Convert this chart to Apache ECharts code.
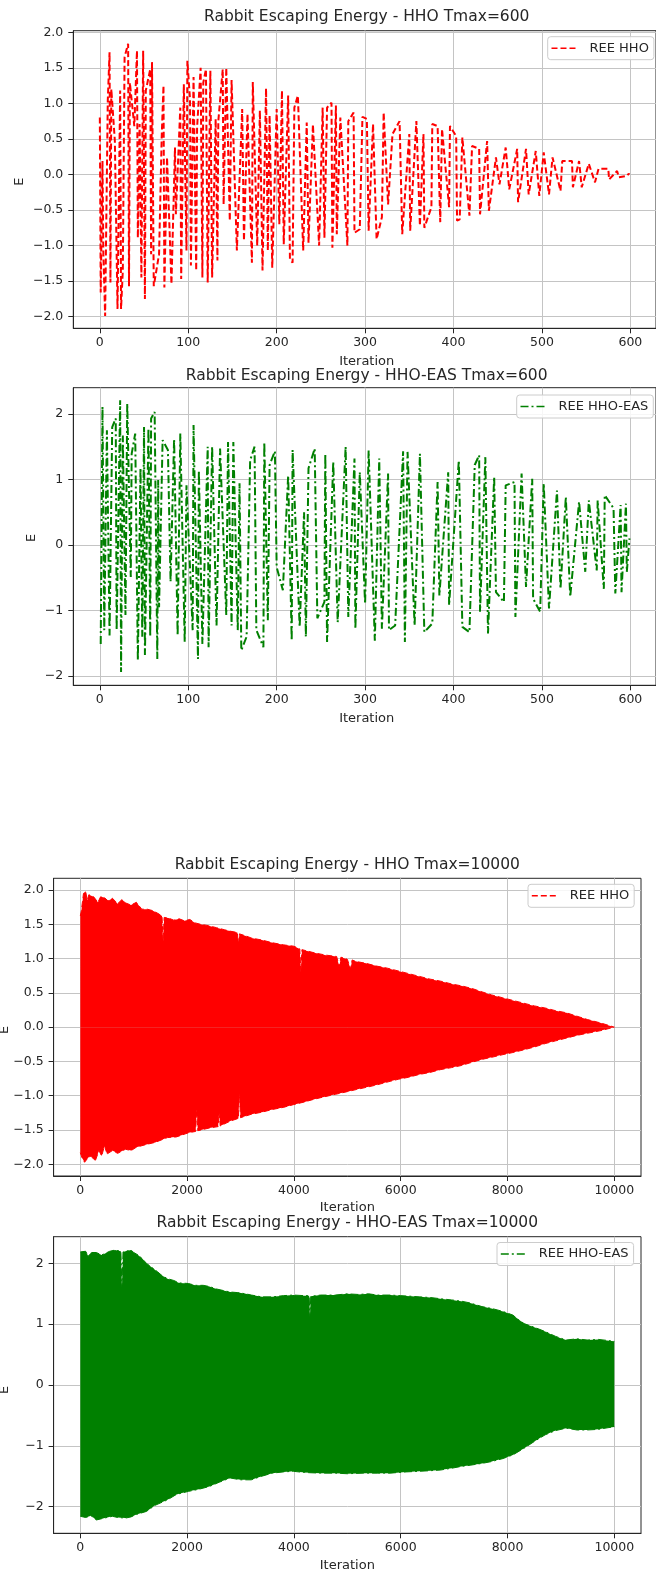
<!DOCTYPE html>
<html>
<head>
<meta charset="utf-8">
<script src="https://cdn.jsdelivr.net/npm/echarts@6/dist/echarts.min.js"></script>
<style>
html,body{margin:0;padding:0;background:#fff}
#c{width:656px;height:1576px}
</style>
</head>
<body>
<div id="c"></div>
<script>
// Rabbit escaping energy, HHO, Tmax = 600: successive swings of E over the iterations
const hhoShort = [
  [0,0.80],[1,-1.66],[3,0.19],[4,-1.12],[6,-1.99],[9,1.04],[11,1.72],[12,-1.52],[13,1.20],[17,0.47],
  [20,-1.89],[23,1.18],[24,-1.89],[26,-1.35],[28,1.65],[32,1.84],[33,-1.57],[34,1.29],[39,0.68],[42,1.74],
  [43,-0.89],[45,0.71],[47,-1.45],[49,1.74],[51,-1.75],[52,1.18],[57,1.48],[58,-1.12],[59,1.58],[61,-1.57],
  [67,-1.12],[70,0.54],[72,1.25],[73,-1.59],[76,0.24],[81,-1.54],[85,0.38],[86,-0.56],[91,0.94],[92,-1.47],
  [95,1.27],[98,-1.07],[99,1.60],[102,1.06],[103,-1.28],[106,1.37],[109,-1.35],[110,0.66],[114,1.50],[116,-1.45],
  [117,1.29],[120,1.48],[122,-1.52],[125,1.46],[127,-1.45],[131,0.78],[133,-1.21],[134,0.75],[139,1.48],[140,-0.42],
  [143,1.50],[147,-0.65],[149,1.33],[155,-1.07],[161,0.92],[163,-0.93],[167,0.85],[172,-1.24],[173,1.30],[178,-1.00],
  [181,0.90],[184,-1.35],[188,1.21],[190,-1.07],[192,0.83],[195,-1.31],[200,0.92],[203,-0.70],[206,1.18],[208,-0.98],
  [213,1.11],[215,-1.19],[218,-1.24],[220,0.94],[224,1.11],[230,-1.07],[234,0.73],[236,-0.96],[241,0.70],[248,-1.00],
  [252,0.94],[254,-0.89],[257,0.94],[262,1.01],[263,-1.03],[267,0.97],[268,-0.84],[272,0.80],[280,-1.00],[281,0.75],
  [287,0.87],[288,-0.82],[294,-0.77],[297,0.81],[302,0.78],[304,-0.79],[309,0.71],[313,-0.91],[319,-0.60],[321,0.87],
  [326,-0.42],[331,0.57],[339,0.75],[342,-0.84],[350,0.57],[351,-0.79],[358,0.75],[362,-0.72],[366,0.57],[367,-0.75],
  [375,-0.46],[376,0.71],[382,0.68],[385,-0.67],[387,0.64],[395,-0.46],[396,0.68],[403,0.54],[404,-0.65],[407,-0.63],
  [410,0.52],[418,-0.58],[421,0.40],[429,0.36],[430,-0.56],[438,0.47],[440,-0.51],[448,0.24],[452,-0.14],[459,0.38],
  [463,-0.21],[472,0.36],[473,-0.39],[482,0.36],[485,-0.28],[493,0.33],[497,-0.30],[502,0.31],[508,-0.28],[512,0.24],
  [521,-0.23],[523,0.19],[534,0.19],[535,-0.18],[542,0.19],[545,-0.18],[553,0.15],[560,-0.11],[564,0.08],[575,0.08],
  [576,-0.07],[585,0.05],[587,-0.04],[596,-0.02],[598,0.01],[599,0.00]
];

// Rabbit escaping energy, HHO-EAS, Tmax = 600
const easShort = [
  [1,-1.51],[3,2.11],[5,-1.30],[8,1.75],[11,-1.38],[14,1.80],[18,1.93],[19,-1.30],[23,2.21],[24,-1.94],
  [26,1.67],[29,-1.07],[31,2.16],[35,-0.49],[36,1.39],[40,1.70],[43,-1.76],[46,1.17],[48,-1.40],[50,1.80],
  [51,-1.68],[55,1.78],[57,-1.40],[58,1.93],[62,2.03],[65,-1.74],[66,0.99],[67,-0.95],[71,1.60],[77,1.45],
  [80,-0.56],[84,1.62],[88,-1.38],[91,1.70],[96,-1.48],[98,0.91],[105,-1.30],[106,1.83],[111,-1.74],[112,1.14],
  [116,-1.51],[122,1.50],[123,-1.56],[127,1.50],[132,-1.23],[136,1.47],[143,-1.07],[145,1.57],[149,-1.23],[151,1.57],
  [156,-1.30],[158,0.94],[160,-1.61],[166,-1.40],[170,1.29],[175,1.50],[177,-1.30],[185,-1.56],[186,1.57],[190,-1.15],
  [192,1.22],[198,1.43],[200,-0.34],[207,-0.69],[213,1.06],[217,-1.46],[218,1.45],[226,-1.25],[231,0.50],[233,-1.40],
  [236,1.17],[243,1.47],[246,-1.12],[254,-0.87],[255,1.39],[257,-1.48],[264,1.27],[269,-1.18],[278,1.50],[281,-1.10],
  [288,1.32],[289,-1.28],[294,1.11],[300,-0.90],[304,1.44],[311,-1.46],[316,1.32],[319,-1.28],[326,1.09],[327,-1.30],
  [334,-1.23],[343,1.43],[345,-1.48],[348,1.42],[356,-1.23],[362,1.39],[367,-1.33],[376,-1.20],[382,0.96],[384,-0.77],
  [394,1.11],[395,-0.92],[406,1.29],[410,-1.25],[418,-1.33],[424,1.22],[429,1.37],[430,-1.02],[436,1.34],[439,-1.35],
  [446,1.04],[448,-0.72],[457,-0.87],[459,0.91],[469,0.96],[470,-1.10],[477,1.09],[482,-0.64],[489,1.01],[490,-0.82],
  [498,-1.02],[502,0.94],[508,-0.97],[517,0.83],[521,-0.67],[527,0.73],[532,-0.79],[542,0.66],[549,-0.41],[553,0.68],
  [562,-0.39],[563,0.68],[570,-0.67],[571,0.76],[581,0.56],[583,-0.74],[589,0.61],[590,-0.72],[595,0.63],[596,-0.41],
  [599,0.10]
];

// Tmax = 10000: the swings are too dense to separate, so each run is kept as its
// upper and lower reach along the iterations (narrow notches included)
const hhoUpper = [
  [0,1.62],[20,1.70],[60,1.95],[100,1.98],[130,1.85],[160,1.93],[250,1.90],[330,1.82],[380,1.90],[450,1.89],
  [520,1.84],[600,1.88],[700,1.80],[780,1.86],[850,1.81],[950,1.78],[1050,1.82],[1150,1.72],[1250,1.72],[1350,1.70],
  [1450,1.66],[1530,1.62],[1550,1.25],[1570,1.60],[1650,1.59],[1750,1.56],[1850,1.58],[1950,1.55],[2050,1.57],[2150,1.52],
  [2250,1.50],[2400,1.48],[2550,1.45],[2700,1.42],[2800,1.40],[2940,1.38],[2960,1.22],[2980,1.36],[3100,1.33],[3200,1.30],
  [3400,1.27],[3600,1.23],[3800,1.20],[4000,1.18],[4110,1.14],[4130,0.80],[4150,1.13],[4250,1.11],[4400,1.08],[4600,1.05],
  [4800,1.03],[4850,0.88],[4880,1.02],[5000,0.99],[5060,0.85],[5090,0.98],[5150,0.96],[5350,0.93],[5550,0.89],[5750,0.86],
  [5950,0.82],[6150,0.78],[6350,0.74],[6550,0.70],[6750,0.67],[6950,0.63],[7150,0.60],[7350,0.56],[7500,0.52],[7700,0.47],
  [7900,0.43],[8100,0.39],[8300,0.35],[8500,0.31],[8700,0.28],[8900,0.24],[9100,0.21],[9300,0.16],[9500,0.11],[9750,0.06],
  [9999,0.00]
];
const hhoLower = [
  [0,-1.83],[30,-1.90],[80,-1.97],[150,-1.90],[200,-1.88],[280,-1.95],[350,-1.80],[400,-1.88],[453,-1.73],[500,-1.85],
  [600,-1.80],[700,-1.84],[845,-1.78],[950,-1.80],[1050,-1.75],[1238,-1.71],[1400,-1.68],[1632,-1.61],[1800,-1.60],[2025,-1.54],
  [2160,-1.52],[2180,-1.20],[2200,-1.51],[2417,-1.47],[2580,-1.45],[2600,-1.25],[2620,-1.44],[2808,-1.37],[2960,-1.33],[2980,-0.96],
  [3000,-1.32],[3202,-1.27],[3400,-1.24],[3596,-1.20],[3800,-1.17],[3989,-1.13],[4200,-1.09],[4381,-1.05],[4600,-1.01],[4774,-0.98],
  [5000,-0.94],[5167,-0.91],[5400,-0.87],[5561,-0.84],[5800,-0.79],[5953,-0.76],[6150,-0.73],[6346,-0.69],[6550,-0.66],[6738,-0.62],
  [6950,-0.59],[7132,-0.56],[7300,-0.52],[7521,-0.47],[7700,-0.44],[7916,-0.40],[8100,-0.37],[8310,-0.33],[8500,-0.29],[8704,-0.24],
  [8900,-0.20],[9098,-0.16],[9300,-0.12],[9489,-0.09],[9750,-0.05],[9999,0.00]
];
const easUpper = [
  [0,2.19],[100,2.20],[150,2.12],[200,2.18],[300,2.18],[400,2.14],[453,2.16],[550,2.20],[650,2.22],[760,2.20],
  [780,1.60],[800,2.19],[845,2.20],[950,2.22],[1000,2.18],[1080,2.14],[1160,2.08],[1240,2.00],[1350,1.93],[1450,1.86],
  [1530,1.80],[1632,1.75],[1750,1.72],[1850,1.68],[2025,1.67],[2150,1.64],[2300,1.64],[2417,1.62],[2550,1.58],[2700,1.55],
  [2808,1.53],[2950,1.52],[3100,1.50],[3202,1.48],[3400,1.45],[3596,1.45],[3800,1.47],[3989,1.48],[4200,1.47],[4285,1.47],
  [4300,1.12],[4315,1.46],[4500,1.48],[4774,1.48],[5000,1.50],[5200,1.49],[5400,1.50],[5561,1.48],[5800,1.48],[6000,1.47],
  [6200,1.46],[6346,1.45],[6550,1.44],[6738,1.42],[6950,1.40],[7132,1.38],[7300,1.35],[7521,1.29],[7700,1.26],[7916,1.21],
  [8100,1.15],[8200,1.08],[8310,1.01],[8500,0.95],[8704,0.88],[8900,0.80],[9098,0.74],[9300,0.76],[9489,0.74],[9700,0.75],
  [9900,0.73],[9999,0.72]
];
const easLower = [
  [0,-2.16],[100,-2.18],[200,-2.15],[303,-2.22],[400,-2.20],[500,-2.18],[600,-2.16],[700,-2.18],[845,-2.19],[950,-2.17],
  [1050,-2.13],[1238,-2.08],[1400,-1.98],[1632,-1.89],[1800,-1.80],[2025,-1.75],[2200,-1.72],[2417,-1.67],[2600,-1.60],[2808,-1.53],
  [3000,-1.56],[3202,-1.56],[3400,-1.50],[3596,-1.45],[3800,-1.43],[3989,-1.42],[4200,-1.44],[4500,-1.45],[4774,-1.45],[5000,-1.46],
  [5300,-1.45],[5561,-1.45],[5800,-1.45],[6100,-1.43],[6346,-1.42],[6550,-1.41],[6738,-1.40],[6950,-1.37],[7132,-1.34],[7300,-1.32],
  [7521,-1.29],[7700,-1.26],[7916,-1.21],[8100,-1.15],[8310,-1.04],[8500,-0.93],[8704,-0.82],[8900,-0.75],[9098,-0.71],[9300,-0.74],
  [9489,-0.74],[9700,-0.73],[9900,-0.70],[9999,-0.69]
];

// Tick positions
const shortXTicks = [0,100,200,300,400,500,600];
const longXTicks  = [0,2000,4000,6000,8000,10000];
const halfYTicks  = [-2,-1.5,-1,-0.5,0,0.5,1,1.5,2];
const unitYTicks  = [-2,-1,0,1,2];

const titles = [
  'Rabbit Escaping Energy - HHO Tmax=600',
  'Rabbit Escaping Energy - HHO-EAS Tmax=600',
  'Rabbit Escaping Energy - HHO Tmax=10000',
  'Rabbit Escaping Energy - HHO-EAS Tmax=10000'
];

const RED = '#ff0000';
const GREEN = '#008000';
const INK = '#262626';
const FONT = 'DejaVu Sans';

const panels = [
  {left:73.3, top:30.7,   width:586.7, height:297.6, xMin:-30,  xMax:629,   yMin:-2.163, yMax:2.022, xt:shortXTicks, yt:halfYTicks, dec:1,
   titleX:366.7, titleY:16.7,   nameY:361.7, eX:20,  eY:181.7},
  {left:73.3, top:387.7,  width:586.7, height:297.6, xMin:-30,  xMax:629,   yMin:-2.142, yMax:2.40,  xt:shortXTicks, yt:unitYTicks, dec:0,
   titleX:366.7, titleY:375.5,  nameY:718.3, eX:31.7, eY:538},
  {left:53.6, top:878.3,  width:587.4, height:297.7, xMin:-500, xMax:10499, yMin:-2.17,  yMax:2.17,  xt:longXTicks,  yt:halfYTicks, dec:1,
   titleX:347.3, titleY:865,    nameY:1208,  eX:5,   eY:1030},
  {left:53.6, top:1236.7, width:587.4, height:296.6, xMin:-500, xMax:10499, yMin:-2.44,  yMax:2.44,  xt:longXTicks,  yt:unitYTicks, dec:0,
   titleX:347.3, titleY:1223.3, nameY:1566,  eX:5,   eY:1390}
];

function fmtY(dec) {
  return function (v) {
    const s = Math.abs(v).toFixed(dec);
    return v < 0 ? '\u2212' + s : s;
  };
}

const grid = panels.map(p => ({
  left: p.left, top: p.top, width: p.width, height: p.height,
  show: true, borderColor: INK, borderWidth: 1, backgroundColor: 'transparent'
}));

const xAxis = panels.map((p, i) => ({
  gridIndex: i, type: 'value', min: p.xMin, max: p.xMax,
  axisLine: {show: true, onZero: false, lineStyle: {color: INK, width: 1}},
  axisTick: {show: true, length: 5, customValues: p.xt, lineStyle: {color: INK}},
  axisLabel: {customValues: p.xt, margin: 8, color: INK, fontSize: 12.5, fontFamily: FONT,
              formatter: v => String(v)},
  splitLine: {show: true, lineStyle: {color: '#c4c4c4', width: 1}}
}));

const yAxis = panels.map((p, i) => ({
  gridIndex: i, type: 'value', min: p.yMin, max: p.yMax,
  axisLine: {show: true, onZero: false, lineStyle: {color: INK, width: 1}},
  axisTick: {show: true, length: 5, customValues: p.yt, lineStyle: {color: INK}},
  axisLabel: {customValues: p.yt, margin: 10, color: INK, fontSize: 12.5, fontFamily: FONT,
              formatter: fmtY(p.dec)},
  splitLine: {show: true, lineStyle: {color: '#c4c4c4', width: 1}}
}));

const hhoDash = [6, 3];
const easDash = [8, 3, 2, 3];

function bandSeries(name, idx, pts, color, dash) {
  return {
    name: name, type: 'line', xAxisIndex: idx, yAxisIndex: idx,
    data: pts, symbol: 'none', silent: true,
    lineStyle: {color: color, width: 1, type: dash},
    itemStyle: {color: color},
    areaStyle: {color: color, opacity: 1, origin: 0},
    z: 2
  };
}

const series = [
  {name: 'REE HHO', type: 'line', xAxisIndex: 0, yAxisIndex: 0, data: hhoShort, symbol: 'none', silent: true,
   lineStyle: {color: RED, width: 2, type: hhoDash}, itemStyle: {color: RED}, z: 3},
  {name: 'REE HHO-EAS', type: 'line', xAxisIndex: 1, yAxisIndex: 1, data: easShort, symbol: 'none', silent: true,
   lineStyle: {color: GREEN, width: 2, type: easDash}, itemStyle: {color: GREEN}, z: 3},
  bandSeries('REE HHO', 2, hhoUpper, RED, hhoDash),
  bandSeries('REE HHO', 2, hhoLower, RED, hhoDash),
  bandSeries('REE HHO-EAS', 3, easUpper, GREEN, easDash),
  bandSeries('REE HHO-EAS', 3, easLower, GREEN, easDash)
];

function legendAt(name, left, top) {
  return {
    data: [name], left: left, top: top, orient: 'horizontal', selectedMode: false,
    itemWidth: 27, itemHeight: 13, padding: [5, 5, 5, 3],
    itemStyle: {opacity: 0},
    lineStyle: {width: 1.6},
    backgroundColor: 'rgba(255,255,255,0.85)', borderColor: '#cccccc', borderWidth: 1, borderRadius: 3,
    textStyle: {color: INK, fontSize: 13, fontFamily: FONT, padding: [0, 0, 0, 6]}
  };
}

const legend = [
  legendAt('REE HHO', 547.7, 36.7),
  legendAt('REE HHO-EAS', 516.7, 395),
  legendAt('REE HHO', 528, 884.3),
  legendAt('REE HHO-EAS', 497, 1242.5)
];

const graphic = [];
panels.forEach((p, i) => {
  graphic.push({type: 'text', x: p.titleX, y: p.titleY, silent: true,
    style: {text: titles[i], fill: INK, font: '15.5px "' + FONT + '"', align: 'center', verticalAlign: 'middle'}});
  graphic.push({type: 'text', x: p.titleX, y: p.nameY, silent: true,
    style: {text: 'Iteration', fill: INK, font: '13px "' + FONT + '"', align: 'center', verticalAlign: 'middle'}});
  graphic.push({type: 'text', x: p.eX, y: p.eY, rotation: Math.PI / 2, silent: true,
    style: {text: 'E', fill: INK, font: '13px "' + FONT + '"', align: 'center', verticalAlign: 'middle'}});
});

const chart = echarts.init(document.getElementById('c'), null, {renderer: 'canvas'});
chart.setOption({
  animation: false,
  backgroundColor: '#ffffff',
  grid: grid,
  xAxis: xAxis,
  yAxis: yAxis,
  legend: legend,
  series: series,
  graphic: graphic
});
</script>
</body>
</html>
